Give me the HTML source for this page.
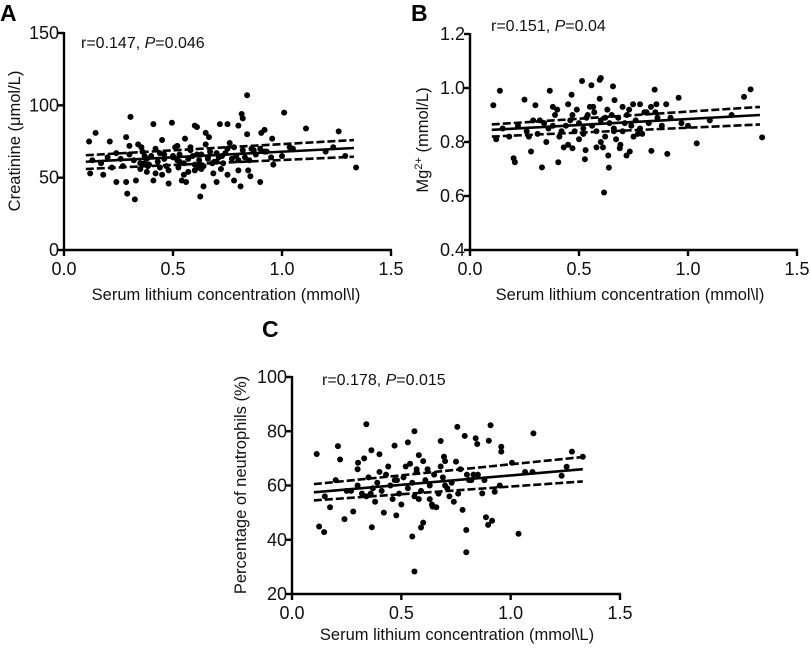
<!DOCTYPE html>
<html><head><meta charset="utf-8">
<style>
body{margin:0;background:#fff;}
svg{display:block;font-family:"Liberation Sans",Arial,sans-serif;}
</style></head>
<body>
<svg id="fig" width="810" height="648" viewBox="0 0 810 648"></svg>
<script>
// ---- Panel A data: Creatinine ----
const aX = [0.115,0.145,0.12,0.18,0.21,0.24,0.24,0.285,0.285,0.29,0.305,0.325,0.33,0.34,0.355,0.37,0.385,0.41,0.41,0.42,0.45,0.45,0.48,0.495,0.51,0.525,0.54,0.555,0.56,0.58,0.6,0.61,0.62,0.625,0.64,0.65,0.665,0.685,0.7,0.715,0.725,0.75,0.76,0.78,0.8,0.8,0.81,0.815,0.82,0.84,0.84,0.845,0.855,0.87,0.9,0.905,0.92,0.93,0.955,0.96,1.01,1.035,1.11,1.26,1.235,1.29,1.34,
 0.13,0.17,0.2,0.22,0.26,0.3,0.32,0.35,0.36,0.38,0.39,0.4,0.43,0.44,0.46,0.47,0.5,0.52,0.53,0.55,0.57,0.59,0.6,0.62,0.63,0.66,0.67,0.69,0.71,0.73,0.74,0.77,0.79,0.82,0.85,0.88,0.9,0.35,0.38,0.42,0.48,0.52,0.57,0.61,0.64,0.68,0.72,0.75,0.8,0.3,0.44,0.5,0.55,0.58,0.63,0.65,0.7,0.75,0.86,0.95,1.0,1.05,1.2,0.27,0.37,0.46,0.53,0.6,0.66,0.7,0.78,0.83,0.92];
const aY = [75,81,53,52,75,67,47,78,47,39,92,35,48,73,71,65,58,87,48,53,76,52,46,88,71,57,48,77,47,71,86,85,57,37,44,81,78,53,47,87,65,87,74,48,55,86,44,94,91,107,80,55,51,69,47,81,83,68,77,59,95,71,84,82,71,65,57,
 62,60,64,57,63,66,62,60,68,63,59,65,61,67,63,58,64,62,66,60,63,65,59,62,66,63,68,61,64,60,67,63,65,69,62,66,70,56,54,70,55,72,54,66,58,60,56,70,62,72,57,65,52,69,56,73,61,52,70,64,65,70,68,58,60,66,61,55,64,67,71,64,68];
const aFit = [0.1,61,1.33,70.5], aLo=[0.1,56,1.33,64.5], aHi=[0.1,65.5,1.33,76];
const aYTicks=[0,50,100,150], xTicks=[0.0,0.5,1.0,1.5];

// ---- Panel B data: Mg2+ ----
const bX = [0.107,0.137,0.12,0.2,0.206,0.25,0.28,0.30,0.33,0.366,0.38,0.405,0.42,0.466,0.47,0.49,0.514,0.534,0.527,0.557,0.565,0.595,0.60,0.595,0.615,0.634,0.637,0.656,0.663,0.687,0.718,0.733,0.748,0.78,0.81,0.832,0.847,0.855,0.9,0.905,0.957,1.04,1.257,1.287,1.34,
 0.15,0.18,0.22,0.26,0.29,0.31,0.34,0.36,0.39,0.41,0.44,0.46,0.48,0.5,0.52,0.54,0.56,0.58,0.6,0.62,0.64,0.66,0.68,0.7,0.72,0.74,0.76,0.79,0.82,0.85,0.88,0.92,0.35,0.4,0.45,0.5,0.55,0.6,0.63,0.67,0.7,0.75,0.8,0.32,0.43,0.47,0.53,0.57,0.61,0.65,0.69,0.73,0.77,0.83,0.97,1.0,1.1,1.2,0.27,0.38,0.45,0.52,0.58,0.62,0.66,0.71,0.78,0.86];
const bY = [0.936,0.99,0.81,0.74,0.725,0.957,0.765,0.936,0.706,0.99,0.93,0.725,0.84,0.975,0.777,0.92,1.026,0.89,0.736,1.01,0.93,1.03,1.037,0.96,0.613,0.75,0.705,1.006,0.955,0.777,0.75,0.765,0.94,0.94,0.91,0.767,0.994,0.94,0.94,0.756,0.964,0.795,0.967,0.995,0.817,
 0.85,0.82,0.86,0.84,0.88,0.83,0.87,0.85,0.9,0.82,0.86,0.88,0.84,0.87,0.83,0.9,0.86,0.84,0.88,0.82,0.87,0.85,0.89,0.84,0.9,0.86,0.88,0.83,0.87,0.91,0.86,0.89,0.8,0.92,0.79,0.81,0.93,0.8,0.92,0.81,0.93,0.82,0.91,0.88,0.78,0.9,0.77,0.91,0.78,0.9,0.79,0.92,0.83,0.93,0.87,0.86,0.88,0.9,0.82,0.86,0.94,0.85,0.78,0.89,0.84,0.87,0.85,0.89];
const bFit=[0.1,0.845,1.33,0.9], bLo=[0.1,0.82,1.33,0.865], bHi=[0.1,0.865,1.33,0.93];
const bYTicks=[0.4,0.6,0.8,1.0,1.2];

// ---- Panel C data: Neutrophils ----
const cX = [0.113,0.124,0.147,0.174,0.21,0.22,0.24,0.28,0.302,0.34,0.33,0.363,0.365,0.4,0.42,0.469,0.477,0.53,0.55,0.56,0.56,0.58,0.59,0.6,0.643,0.68,0.695,0.75,0.756,0.78,0.79,0.797,0.797,0.84,0.847,0.87,0.887,0.897,0.9,0.908,0.915,0.927,0.957,0.957,1.006,1.036,1.104,1.066,1.233,1.256,1.28,1.33,
 0.15,0.2,0.25,0.3,0.32,0.35,0.37,0.39,0.41,0.43,0.45,0.47,0.49,0.51,0.53,0.55,0.57,0.59,0.61,0.63,0.65,0.67,0.69,0.71,0.73,0.77,0.81,0.85,0.3,0.38,0.44,0.5,0.54,0.58,0.62,0.66,0.7,0.74,0.8,0.34,0.4,0.46,0.52,0.56,0.6,0.64,0.68,0.72,0.76,0.83,0.88,0.95,1.1,0.27,0.36,0.48,0.57,0.63,0.7,0.82];
const cY = [71.6,44.9,42.8,52,74.5,69.6,47.6,50.4,68.4,82.6,70,73,44.6,71.5,50,74.7,49,75.9,41.2,80,28.3,71.2,44.5,46.3,52.2,76.4,70.6,68.8,81.6,51,78.3,43.6,35.4,77.4,75.3,57.1,48.3,45.5,76.5,82.2,47,57.7,74.3,72.5,68.4,42.2,79.2,65,63.6,66.9,72.5,70.6,
 56,62,58,60,57,63,59,61,58,64,60,62,57,63,59,61,65,58,62,60,64,57,63,59,61,66,62,64,66,54,67,53,68,55,66,52,69,54,64,56,65,55,67,56,69,53,67,56,57,64,62,60,65,58,57,62,66,55,60,62];
const cFit=[0.1,57.5,1.33,66], cLo=[0.1,54.5,1.33,61.5], cHi=[0.1,60.5,1.33,70.5];
const cYTicks=[20,40,60,80,100];

const NS="http://www.w3.org/2000/svg";
const svg=document.getElementById('fig');
function mk(tag,attrs,parent){const e=document.createElementNS(NS,tag);for(const k in attrs)e.setAttribute(k,attrs[k]);(parent||svg).appendChild(e);return e;}

function panel(o){
  const g=mk('g',{});
  
  
  const sx=v=>o.x0+(v-0)/(1.5)*(o.x1-o.x0);
  const sy=v=>o.y0-(v-o.ymin)/(o.ymax-o.ymin)*(o.y0-o.y1);
  const ax=mk('line',{x1:o.x0-1,y1:o.y0,x2:o.x1+1,y2:o.y0,stroke:'#000','stroke-width':2.4},g);
  
  const ay=mk('line',{x1:o.x0,y1:o.y0+1,x2:o.x0,y2:o.y1-1,stroke:'#000','stroke-width':2.4},g);
  
  xTicks.forEach(t=>{
    mk('line',{x1:sx(t),y1:o.y0,x2:sx(t),y2:o.y0+6,stroke:'#000','stroke-width':2.4},g);
    const tx=mk('text',{x:sx(t),y:o.y0+25,'font-size':18,'text-anchor':'middle',fill:'#111'},g);
    tx.textContent=t.toFixed(1);
    
  });
  o.yt.forEach(t=>{
    mk('line',{x1:o.x0-6,y1:sy(t),x2:o.x0,y2:sy(t),stroke:'#000','stroke-width':2.4},g);
    const tx=mk('text',{x:o.x0-5,y:sy(t)+6,'font-size':18,'text-anchor':'end',fill:'#111'},g);
    tx.textContent=o.fmt(t);
    
  });
  o.px.forEach((v,i)=>{
    const c=mk('circle',{cx:sx(v),cy:sy(o.py[i]),r:3,fill:'#000'},g);
    
    
  });
  [[o.fit,'none','fit-line'],[o.lo,'8,3','ci-lower'],[o.hi,'8,3','ci-upper']].forEach(([l,d,n])=>{
    const e=mk('line',{x1:sx(l[0]),y1:sy(l[1]),x2:sx(l[2]),y2:sy(l[3]),stroke:'#000','stroke-width':2.6,'stroke-dasharray':d},g);
    
  });
  const lt=mk('text',{x:o.lx,y:o.ly,'font-size':23,'font-weight':'bold',fill:'#000'},g);
  lt.textContent=o.letter;
  const st=mk('text',{x:o.sx,y:o.sy,'font-size':16,fill:'#111'},g);
  st.innerHTML=o.stat;
  const xt=mk('text',{x:o.xtx,y:o.xty,'font-size':16.5,'text-anchor':'middle',fill:'#111'},g);
  xt.textContent=o.xtitle;
  const yt=mk('text',{x:0,y:0,'font-size':16.5,'text-anchor':'middle',fill:'#111',transform:`translate(${o.ytx},${o.yty}) rotate(-90)`},g);
  yt.innerHTML=o.ytitle;
}
panel({name:'panel-a',x0:64,x1:391,y0:250,y1:33,ymin:0,ymax:150,yt:aYTicks,fmt:t=>String(t),px:aX,py:aY,fit:aFit,lo:aLo,hi:aHi,
  letter:'A',lx:0,ly:21,sx:81,sy:48,stat:'r=0.147, <tspan font-style="italic">P</tspan>=0.046',
  xtitle:'Serum lithium concentration (mmol\\l)',xtx:226,xty:300,ytitle:'Creatinine (μmol/L)',ytx:20,yty:141});
panel({name:'panel-b',x0:470,x1:797,y0:250,y1:34,ymin:0.4,ymax:1.2,yt:bYTicks,fmt:t=>t.toFixed(1),px:bX,py:bY,fit:bFit,lo:bLo,hi:bHi,
  letter:'B',lx:411,ly:21,sx:491,sy:31,stat:'r=0.151, <tspan font-style="italic">P</tspan>=0.04',
  xtitle:'Serum lithium concentration (mmol\\l)',xtx:630,xty:300,ytitle:'Mg<tspan font-size="11" dy="-6">2+</tspan><tspan dy="6"> (mmol/L)</tspan>',ytx:428,yty:140});
panel({name:'panel-c',x0:292,x1:620,y0:594,y1:377,ymin:20,ymax:100,yt:cYTicks,fmt:t=>String(t),px:cX,py:cY,fit:cFit,lo:cLo,hi:cHi,
  letter:'C',lx:262,ly:337,sx:322,sy:385,stat:'r=0.178, <tspan font-style="italic">P</tspan>=0.015',
  xtitle:'Serum lithium concentration (mmol\\L)',xtx:457,xty:640,ytitle:'Percentage of neutrophils (%)',ytx:246,yty:485});
</script>
</body></html>
